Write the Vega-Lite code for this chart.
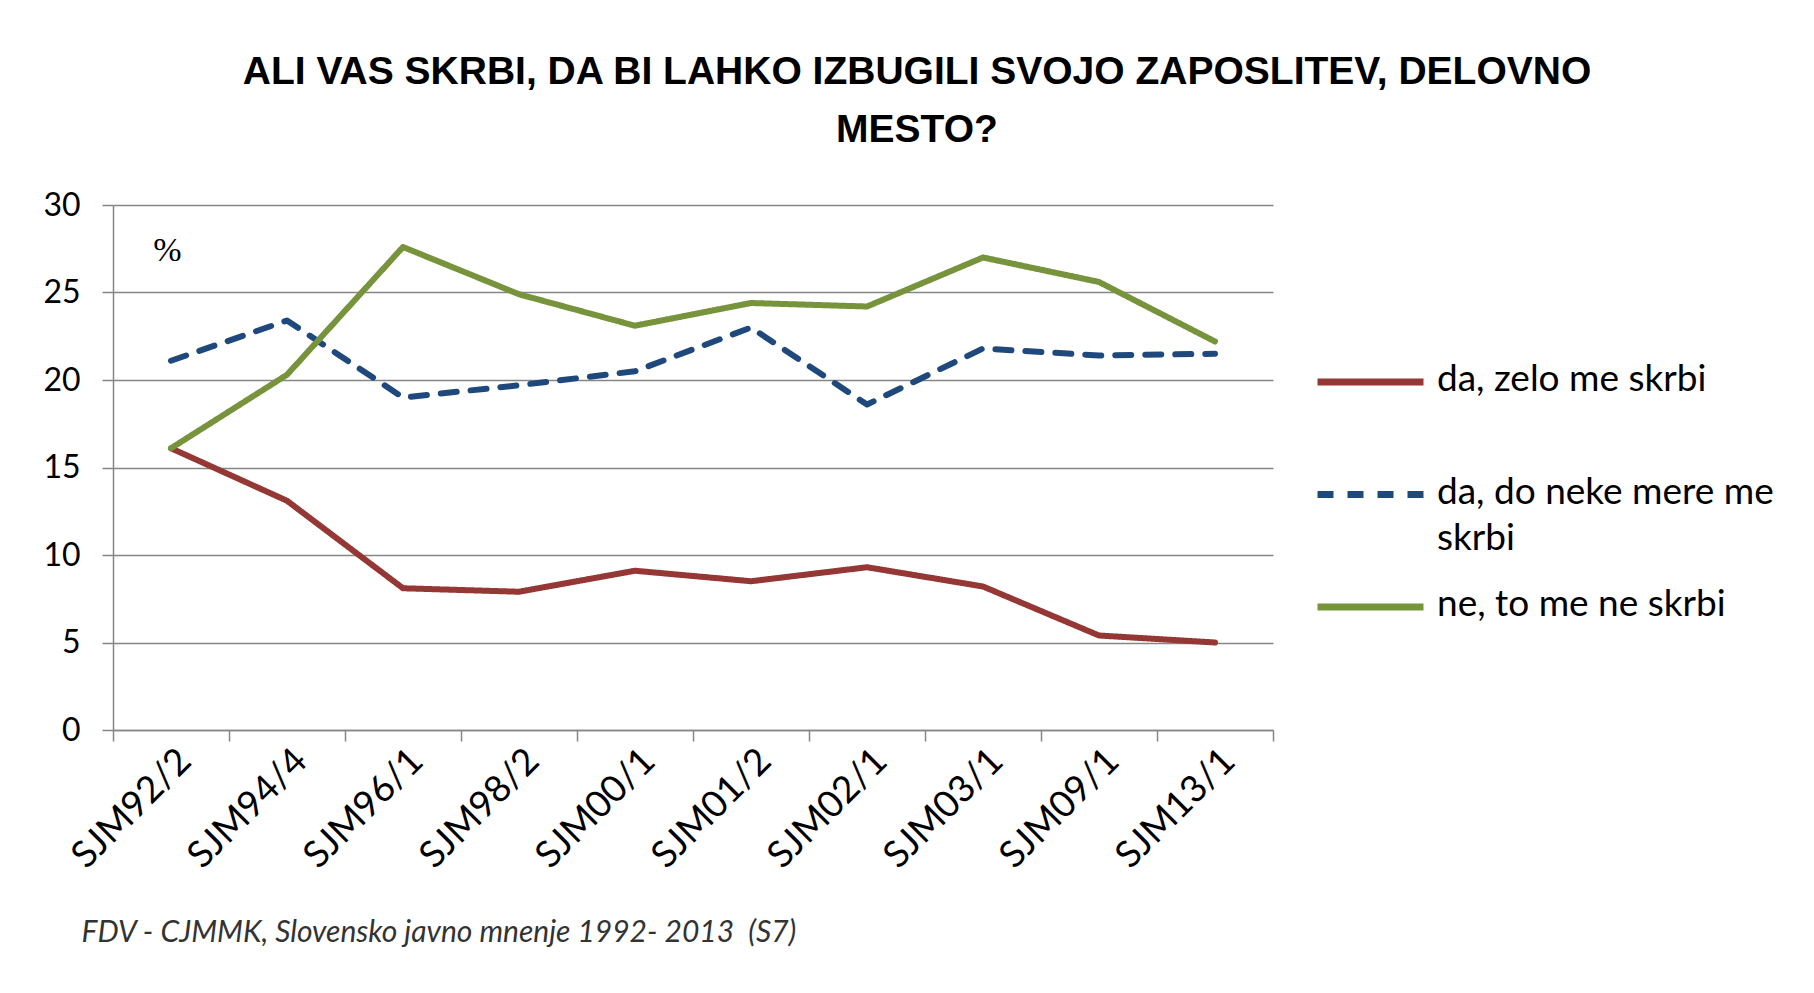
{
  "$schema": "https://vega.github.io/schema/vega-lite/v6.json",
  "autosize": "none",
  "width": 1160,
  "height": 525,
  "padding": {"left": 113, "top": 205, "right": 541, "bottom": 263},
  "background": "white",
  "title": {
    "text": ["ALI VAS SKRBI, DA BI LAHKO IZBUGILI SVOJO ZAPOSLITEV, DELOVNO", "MESTO?"],
    "font": "Liberation Sans",
    "fontWeight": "bold",
    "fontSize": 39,
    "lineHeight": 58,
    "anchor": "middle",
    "frame": "group",
    "dx": 224,
    "baseline": "alphabetic",
    "offset": 8,
    "color": "black"
  },
  "data": {
    "values": [
      {"wave": "SJM92/2", "series": "da, zelo me skrbi", "pct": 16.1},
      {"wave": "SJM94/4", "series": "da, zelo me skrbi", "pct": 13.1},
      {"wave": "SJM96/1", "series": "da, zelo me skrbi", "pct": 8.1},
      {"wave": "SJM98/2", "series": "da, zelo me skrbi", "pct": 7.9},
      {"wave": "SJM00/1", "series": "da, zelo me skrbi", "pct": 9.1},
      {"wave": "SJM01/2", "series": "da, zelo me skrbi", "pct": 8.5},
      {"wave": "SJM02/1", "series": "da, zelo me skrbi", "pct": 9.3},
      {"wave": "SJM03/1", "series": "da, zelo me skrbi", "pct": 8.2},
      {"wave": "SJM09/1", "series": "da, zelo me skrbi", "pct": 5.4},
      {"wave": "SJM13/1", "series": "da, zelo me skrbi", "pct": 5.0},
      {"wave": "SJM92/2", "series": "da, do neke mere me skrbi", "pct": 21.1},
      {"wave": "SJM94/4", "series": "da, do neke mere me skrbi", "pct": 23.4},
      {"wave": "SJM96/1", "series": "da, do neke mere me skrbi", "pct": 19.0},
      {"wave": "SJM98/2", "series": "da, do neke mere me skrbi", "pct": 19.7},
      {"wave": "SJM00/1", "series": "da, do neke mere me skrbi", "pct": 20.5},
      {"wave": "SJM01/2", "series": "da, do neke mere me skrbi", "pct": 23.0},
      {"wave": "SJM02/1", "series": "da, do neke mere me skrbi", "pct": 18.6},
      {"wave": "SJM03/1", "series": "da, do neke mere me skrbi", "pct": 21.8},
      {"wave": "SJM09/1", "series": "da, do neke mere me skrbi", "pct": 21.4},
      {"wave": "SJM13/1", "series": "da, do neke mere me skrbi", "pct": 21.5},
      {"wave": "SJM92/2", "series": "ne, to me ne skrbi", "pct": 16.1},
      {"wave": "SJM94/4", "series": "ne, to me ne skrbi", "pct": 20.3},
      {"wave": "SJM96/1", "series": "ne, to me ne skrbi", "pct": 27.6},
      {"wave": "SJM98/2", "series": "ne, to me ne skrbi", "pct": 24.9},
      {"wave": "SJM00/1", "series": "ne, to me ne skrbi", "pct": 23.1},
      {"wave": "SJM01/2", "series": "ne, to me ne skrbi", "pct": 24.4},
      {"wave": "SJM02/1", "series": "ne, to me ne skrbi", "pct": 24.2},
      {"wave": "SJM03/1", "series": "ne, to me ne skrbi", "pct": 27.0},
      {"wave": "SJM09/1", "series": "ne, to me ne skrbi", "pct": 25.6},
      {"wave": "SJM13/1", "series": "ne, to me ne skrbi", "pct": 22.2}
    ]
  },
  "mark": {"type": "line", "strokeWidth": 6, "strokeCap": "round", "strokeJoin": "round"},
  "encoding": {
    "x": {
      "field": "wave",
      "type": "ordinal",
      "sort": null,
      "bandPosition": 0.5,
      "scale": {"type": "band", "paddingInner": 0, "paddingOuter": 0},
      "axis": {
        "title": "FDV - CJMMK, Slovensko javno mnenje 1992- 2013 \u00a0(S7)",
        "titleFont": "Lato",
        "titleFontStyle": "italic",
        "titleFontWeight": "normal",
        "titleFontSize": 30,
        "titleColor": "#333333",
        "titleX": -32,
        "titleY": 202,
        "titleAlign": "left",
        "titleAnchor": null,
        "titleBaseline": "middle",
        "labelAngle": -45,
        "labelAlign": "right",
        "labelBaseline": "middle",
        "labelFont": "Lato",
        "labelFontSize": 37,
        "labelColor": "black",
        "labelPadding": 14,
        "labelOffset": 14,
        "tickBand": "extent",
        "tickSize": 11,
        "tickColor": "#868686",
        "tickWidth": 1.5,
        "domainColor": "#868686",
        "domainWidth": 1.5,
        "grid": false
      }
    },
    "y": {
      "field": "pct",
      "type": "quantitative",
      "scale": {"domain": [0, 30]},
      "axis": {
        "title": "%",
        "titleAngle": 0,
        "titleX": 54,
        "titleY": 45,
        "titleAlign": "center",
        "titleBaseline": "middle",
        "titleFont": "Liberation Serif",
        "titleFontSize": 34,
        "titleFontWeight": "normal",
        "titleColor": "black",
        "values": [0, 5, 10, 15, 20, 25, 30],
        "grid": true,
        "gridColor": "#868686",
        "gridWidth": 1.5,
        "tickSize": 11,
        "tickColor": "#868686",
        "tickWidth": 1.5,
        "domainColor": "#868686",
        "domainWidth": 1.5,
        "labelPadding": 22,
        "labelFont": "Lato",
        "labelFontSize": 32,
        "labelColor": "black"
      }
    },
    "color": {
      "field": "series",
      "type": "nominal",
      "scale": {
        "domain": ["da, zelo me skrbi", "da, do neke mere me skrbi", "ne, to me ne skrbi"],
        "range": ["#953735", "#1F497D", "#77933C"]
      },
      "legend": {
        "title": null,
        "labelExpr": "datum.label == 'da, do neke mere me skrbi' ? ['da, do neke mere me', 'skrbi'] : [datum.label, ' ']",
        "labelBaseline": "top",
        "encode": {"labels": {"update": {"dy": {"value": -20}, "lineHeight": {"value": 46}}}}
      }
    },
    "strokeDash": {
      "field": "series",
      "type": "nominal",
      "scale": {
        "domain": ["da, zelo me skrbi", "da, do neke mere me skrbi", "ne, to me ne skrbi"],
        "range": [[1, 0], [16, 14], [1, 0]]
      },
      "legend": {
        "title": null,
        "labelExpr": "datum.label == 'da, do neke mere me skrbi' ? ['da, do neke mere me', 'skrbi'] : [datum.label, ' ']",
        "labelBaseline": "top",
        "encode": {"labels": {"update": {"dy": {"value": -20}, "lineHeight": {"value": 46}}}}
      }
    }
  },
  "config": {
    "view": {"stroke": null},
    "legend": {
      "orient": "none",
      "legendX": 1201,
      "legendY": 157,
      "symbolType": "stroke",
      "symbolSize": 11236,
      "symbolStrokeWidth": 7,
      "labelFont": "Lato",
      "labelFontSize": 37,
      "labelColor": "black",
      "labelLimit": 600,
      "labelOffset": 10,
      "clipHeight": 40,
      "rowPadding": 29.5
    }
  }
}
